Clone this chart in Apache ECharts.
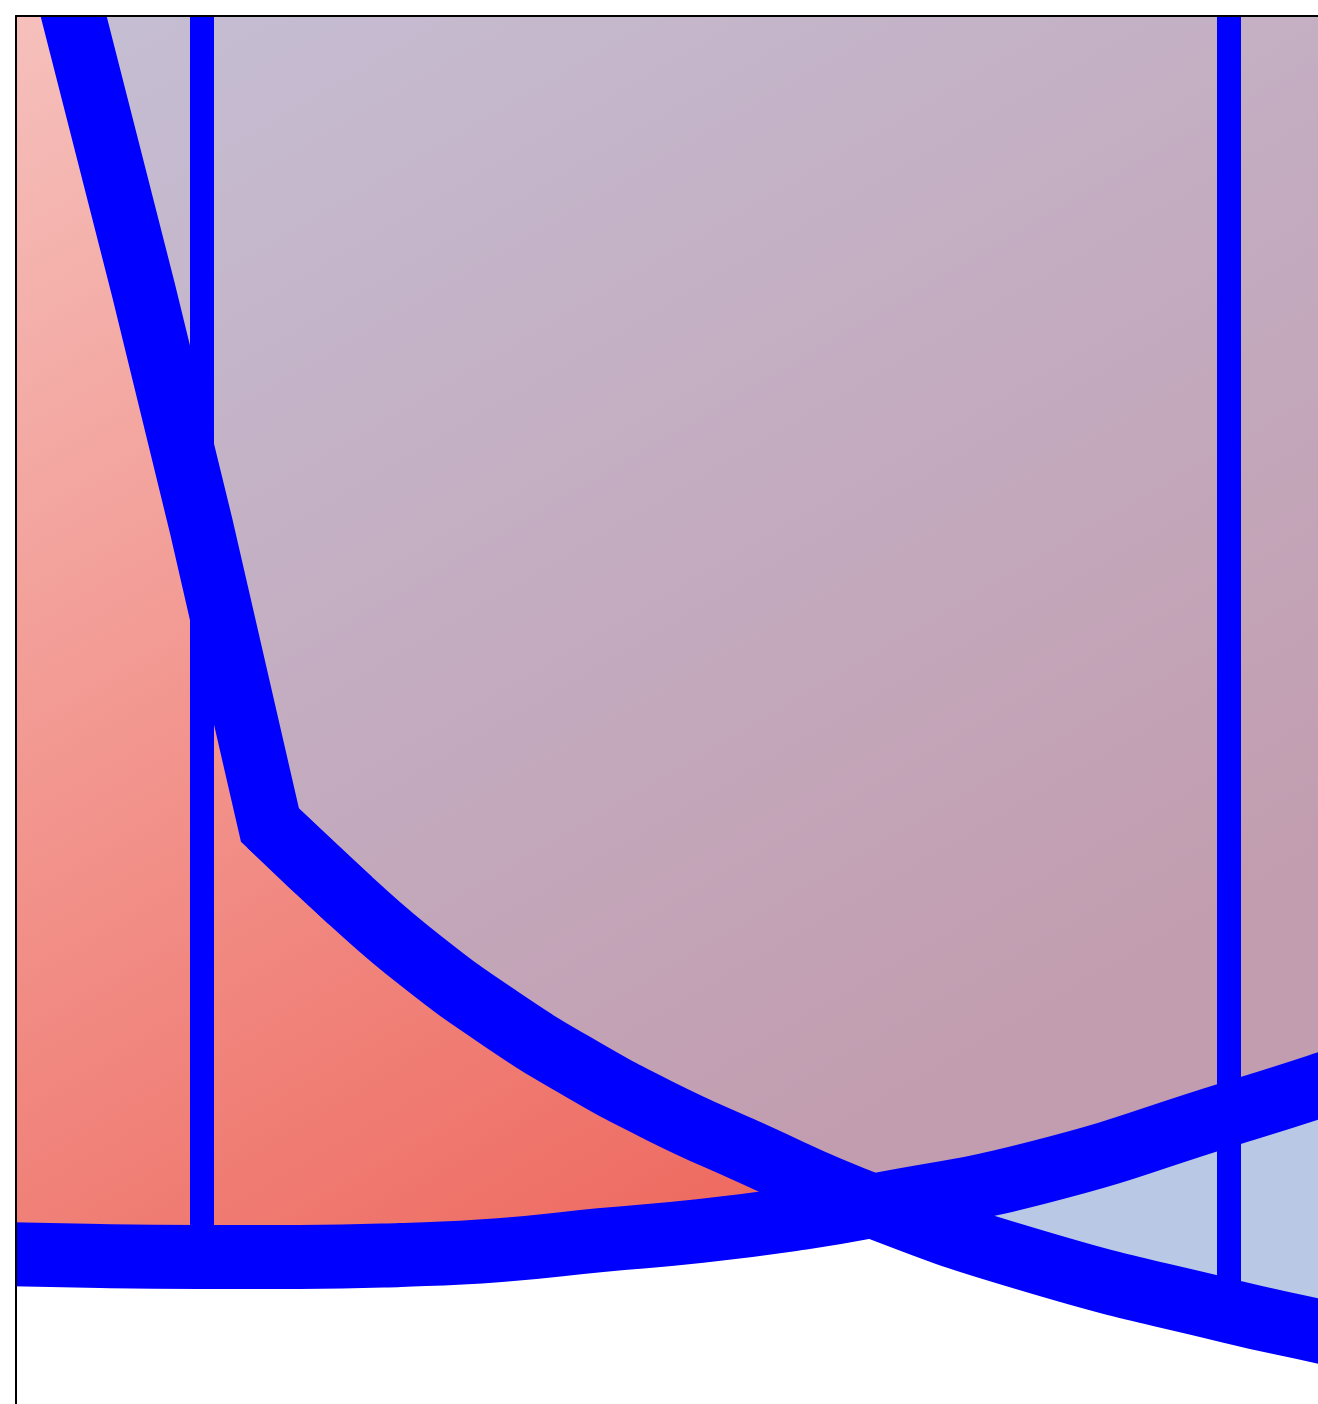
<!DOCTYPE html>
<html>
<head>
<meta charset="utf-8">
<script src="https://cdn.jsdelivr.net/npm/echarts@6/dist/echarts.min.js"></script>
<style>
html,body{margin:0;padding:0;background:#ffffff;}
#chart{width:1318px;height:1404px;}
</style>
</head>
<body>
<div id="chart"></div>
<script>
// Falling curve (blue-tinted area above it); index 3 is the sharp bend
const fallX = [-1.39, -0.57, -0.01, 0.662, 1.44, 2.12, 2.90, 3.68, 4.46, 5.24, 6.53, 8.16, 10.00, 10.87, 11.67];
const fallY = [-1.97, 9.61, 17.86, 28.39, 31.02, 33.12, 35.16, 36.91, 38.42, 39.72, 41.75, 43.75, 45.44, 46.14, 46.77];
const fallBendIndex = 3;
// Rising curve (red area above it)
const riseX = [-2.46, -0.99, -0.02, 0.95, 1.93, 2.90, 3.88, 4.85, 5.82, 6.53, 8.16, 10.00, 10.87, 11.67];
const riseY = [43.40, 43.51, 43.54, 43.54, 43.47, 43.30, 42.95, 42.63, 42.18, 41.75, 40.56, 38.53, 37.54, 36.56];
// Reference lines
const refLinesX = [0, 10];
const refLinesXEnd = [43.54, 45.44];
const refLinesY = [10];

const xMin = -1.811, xMax = 10.867, yMin = 0, yMax = 48.7;

const fallData = fallX.map((x, i) => [x, fallY[i]]);
const riseData = riseX.map((x, i) => [x, riseY[i]]);
const fallUpper = fallData.slice(0, fallBendIndex + 2);
const fallLower = fallData.slice(fallBendIndex);

const markData = [];
refLinesX.forEach((x, i) => markData.push([{coord: [x, yMin]}, {coord: [x, refLinesXEnd[i]]}]));
refLinesY.forEach(y => markData.push([{coord: [xMin, y]}, {coord: [xMax + 1, y]}]));

const blueTint = 'rgba(165,190,228,0.6)';
const blueBase = 'rgba(185,190,215,0.6)';
const lineBlue = '#0000ff';

function areaSeries(name, data, z, color, smooth) {
  return {
    type: 'line', name: name, data: data, smooth: smooth, z: z,
    showSymbol: false, symbol: 'none', silent: true,
    lineStyle: {width: 0, opacity: 0},
    areaStyle: {opacity: 1, color: color}
  };
}
function curveSeries(name, data, z, smooth, extra) {
  return Object.assign({
    type: 'line', name: name, data: data, smooth: smooth, z: z,
    showSymbol: false, symbol: 'none', silent: true,
    lineStyle: {width: 64, color: lineBlue, join: 'miter', cap: 'butt'}
  }, extra || {});
}

const chart = echarts.init(document.getElementById('chart'), null, {renderer: 'canvas'});
chart.setOption({
  animation: false,
  backgroundColor: '#ffffff',
  grid: {left: 16, top: 16, right: 0, bottom: 0, containLabel: false},
  xAxis: {
    type: 'value', position: 'top', min: xMin, max: xMax, z: 10,
    axisLine: {show: true, onZero: false, lineStyle: {color: '#000', width: 2}},
    axisTick: {show: false}, axisLabel: {show: false}, splitLine: {show: false}
  },
  yAxis: {
    type: 'value', inverse: true, min: yMin, max: yMax, z: 10,
    axisLine: {show: true, onZero: false, lineStyle: {color: '#000', width: 2}},
    axisTick: {show: false}, axisLabel: {show: false}, splitLine: {show: false}
  },
  graphic: {
    elements: [
      {type: 'rect', z: 8, silent: true, shape: {x: 0, y: 0, width: 1318, height: 15}, style: {fill: '#ffffff'}},
      {type: 'rect', z: 8, silent: true, shape: {x: 0, y: 0, width: 15, height: 1404}, style: {fill: '#ffffff'}}
    ]
  },
  series: [
    areaSeries('fallTintBase', fallData, 1, blueBase, false),
    areaSeries('riseArea', riseData, 2, new echarts.graphic.LinearGradient(0, 0, 0.5, 1, [
      {offset: 0, color: '#f6c2be'},
      {offset: 1, color: '#ee6a60'}
    ]), true),
    areaSeries('fallTint', fallData, 3, blueTint, false),
    curveSeries('rise', riseData, 4, true),
    curveSeries('fallUpper', fallUpper, 4, false),
    curveSeries('fallLower', fallLower, 4, true, {
      markLine: {
        silent: true, symbol: ['none', 'none'], z: 5,
        label: {show: false},
        lineStyle: {type: 'solid', width: 24, color: lineBlue, opacity: 1},
        emphasis: {disabled: true},
        data: markData
      }
    })
  ]
});
</script>
</body>
</html>
